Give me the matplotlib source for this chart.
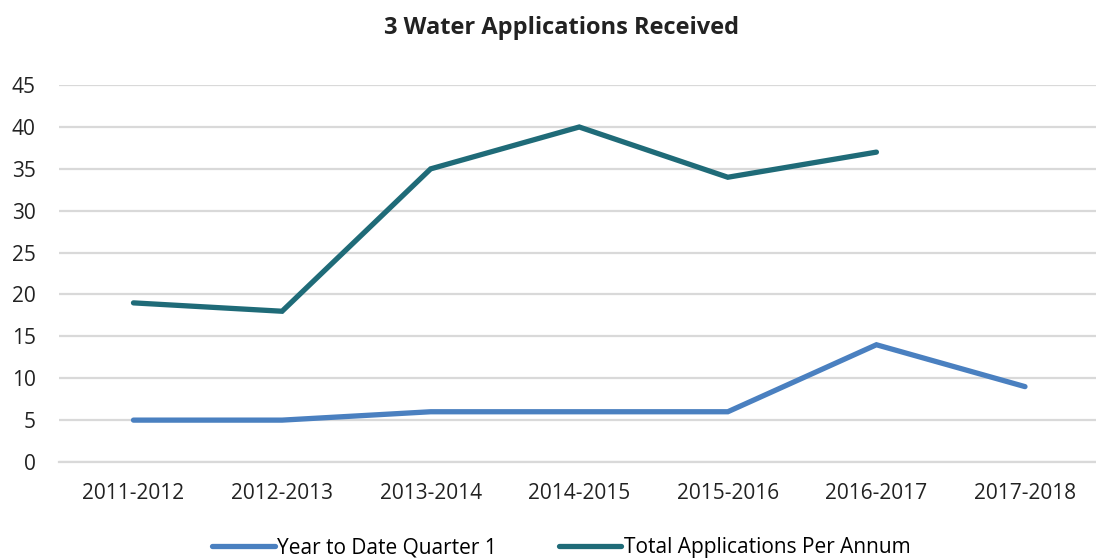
import matplotlib

matplotlib.use("Agg")
import matplotlib.pyplot as plt

categories = ["2011-2012", "2012-2013", "2013-2014", "2014-2015",
              "2015-2016", "2016-2017", "2017-2018"]
ytd_q1 = [5, 5, 6, 6, 6, 14, 9]
total_per_annum = [19, 18, 35, 40, 34, 37]
y_ticks = [0, 5, 10, 15, 20, 25, 30, 35, 40, 45]

plt.rcParams["font.family"] = ["Liberation Sans Narrow", "Open Sans", "DejaVu Sans"]

fig = plt.figure(figsize=(10.96, 5.6), dpi=100)
ax = fig.add_axes([0.054, 0.175, 0.949, 0.673])

x_all = list(range(len(categories)))
ax.plot(x_all, ytd_q1, color="#4a80c0", lw=3.8, solid_joinstyle="miter",
        solid_capstyle="round", label="Year to Date Quarter 1", zorder=3)
ax.plot(x_all[:len(total_per_annum)], total_per_annum, color="#1f6b78", lw=3.8,
        solid_joinstyle="miter", solid_capstyle="round",
        label="Total Applications Per Annum", zorder=3)

ax.set_xlim(-0.5, len(categories) - 0.5)
ax.set_ylim(0, 45)
ax.set_yticks(y_ticks)
ax.set_xticks(x_all)
ax.set_xticklabels(categories)
ax.tick_params(length=0, labelsize=15, colors="#222222")
ax.tick_params(axis="x", pad=15)
ax.tick_params(axis="y", pad=17)
ax.grid(axis="y", color="#d9d9d9", lw=1.6)
ax.set_axisbelow(True)
for side in ["top", "right", "left"]:
    ax.spines[side].set_visible(False)
ax.spines["bottom"].set_color("#d9d9d9")
ax.spines["bottom"].set_linewidth(1.6)

fig.suptitle("3 Water Applications Received", x=0.512, y=0.972,
             fontsize=17, fontweight="bold", color="#222222")
fig.legend(loc="lower center", bbox_to_anchor=(0.512, -0.03), ncol=2,
           frameon=False, fontsize=15, handlelength=3.0, handletextpad=0.1,
           columnspacing=3.0)

fig.savefig("out.png", dpi=100)
